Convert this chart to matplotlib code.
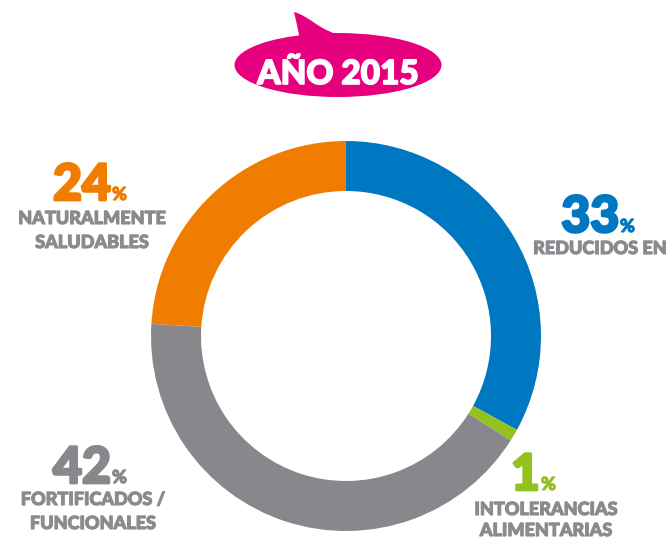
import matplotlib.pyplot as plt
import matplotlib.patheffects as pe
from matplotlib.patches import Ellipse, PathPatch
from matplotlib.path import Path

# Data
categories = ['REDUCIDOS EN', 'INTOLERANCIAS\nALIMENTARIAS', 'FORTIFICADOS /\nFUNCIONALES',
              'NATURALMENTE\nSALUDABLES']
values = [33, 1, 42, 24]
colors = ['#0078C1', '#95C11F', '#87878C', '#F07D00']
title = 'AÑO 2015'

W, H = 670, 539
LABEL_GREY = '#8A8A8F'
FONT = ['Lato', 'DejaVu Sans']


def Y(y):
    # convert pixel row (top-down) to axis coordinate
    return H - y


def heavy(col, w=1.2):
    return [pe.withStroke(linewidth=w, foreground=col)]


fig = plt.figure(figsize=(W / 100, H / 100), dpi=100)
ax = fig.add_axes([0, 0, 1, 1])

# Donut
ax.pie(values, colors=colors, startangle=90, counterclock=False,
       center=(346, Y(336)), radius=195, frame=True,
       wedgeprops=dict(width=50, linewidth=0))
ax.set_xlim(0, W)
ax.set_ylim(0, H)
ax.set_aspect('equal')
ax.axis('off')

# Title bubble
ax.add_patch(Ellipse((338, Y(65)), 207, 64, color='#E6007E', lw=0))
tail = Path([(300, Y(40)), (297, Y(25)), (294, Y(12)), (294, Y(12)),
             (310, Y(16)), (320, Y(32)), (345, Y(36)), (300, Y(40))],
            [Path.MOVETO, Path.LINETO, Path.LINETO, Path.LINETO,
             Path.CURVE4, Path.CURVE4, Path.CURVE4, Path.CLOSEPOLY])
ax.add_patch(PathPatch(tail, color='#E6007E', lw=0))
ax.text(338, Y(84), title, color='white', fontsize=24, fontweight='black',
        family=FONT, ha='center', va='baseline', path_effects=heavy('white'))

# Labels: (number right edge x, number baseline y, label center x, first label baseline y)
label_pos = [
    (619, 232, 600, 254),
    (540, 490, 546, 515),
    (111, 483, 93, 505),
    (111, 200, 92, 224),
]

for val, col, cat, (nx, ny, lx, ly) in zip(values, colors, categories, label_pos):
    ax.text(nx, Y(ny), str(val), color=col, fontsize=36, fontweight='black',
            family=FONT, ha='right', va='baseline', path_effects=heavy(col, 2))
    ax.text(nx + 1, Y(ny), '%', color=col, fontsize=13, fontweight='black',
            family=FONT, ha='left', va='baseline', path_effects=heavy(col, 0.8))
    for i, line in enumerate(cat.split('\n')):
        ax.text(lx, Y(min(ly + 24 * i, 536)), line, color=LABEL_GREY, fontsize=13,
                fontweight='black', family=FONT, ha='center', va='baseline',
                path_effects=heavy(LABEL_GREY, 0.8))

fig.savefig('out.png', dpi=100)
